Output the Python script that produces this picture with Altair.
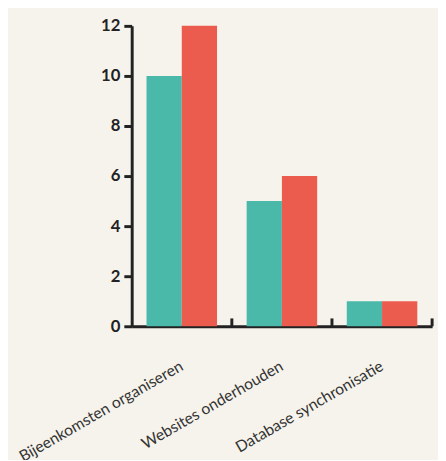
import altair as alt
import pandas as pd

categories = ["Bijeenkomsten organiseren", "Websites onderhouden", "Database synchronisatie"]
series = ["Reeks 1", "Reeks 2"]
values_1 = [10, 5, 1]
values_2 = [12, 6, 1]
colors = ["#4ab9aa", "#ec5c4e"]
y_ticks = [0, 2, 4, 6, 8, 10, 12]

rows = []
for c, v1, v2 in zip(categories, values_1, values_2):
    rows.append({"cat": c, "serie": series[0], "val": v1})
    rows.append({"cat": c, "serie": series[1], "val": v2})
df = pd.DataFrame(rows)

x_axis = alt.Axis(
    labelAngle=-30, labelAlign="right", labelBaseline="middle", labelPadding=39,
    labelOffset=0,
    labelFont="Lato", labelFontSize=16, labelColor="#333333", ticks=False,
    domainColor="#222222", domainWidth=3, labelLimit=400,
)

bars = alt.Chart(df).mark_bar().encode(
    x=alt.X("cat:N", sort=categories, title=None,
            scale=alt.Scale(paddingInner=0, paddingOuter=0), axis=x_axis),
    xOffset=alt.XOffset("serie:N", sort=series,
                        scale=alt.Scale(paddingOuter=0.42, paddingInner=0)),
    y=alt.Y("val:Q", title=None, scale=alt.Scale(domain=[0, 12]),
            axis=alt.Axis(values=y_ticks, tickSize=8, tickWidth=3, tickColor="#222222",
                          domainColor="#222222", domainWidth=3, labelFont="Lato",
                          labelFontWeight="bold", labelFontSize=17, labelColor="#222222",
                          labelPadding=4, grid=False)),
    color=alt.Color("serie:N", scale=alt.Scale(domain=series, range=colors), legend=None),
)

ticks = alt.Chart(pd.DataFrame({"cat": categories})).mark_rule(
    color="#222222", strokeWidth=3
).encode(
    x=alt.X("cat:N", sort=categories, bandPosition=1, title=None),
    y=alt.value(306),
    y2=alt.value(298),
)

chart = alt.layer(bars, ticks).properties(
    width=306, height=306,
    autosize=alt.AutoSizeParams(type="none"),
    padding={"left": 126, "top": 14, "right": 6, "bottom": 132},
).configure(background="#f6f3ec").configure_view(stroke=None)

chart.save("out.html", embed_options={"renderer": "svg", "actions": False})
